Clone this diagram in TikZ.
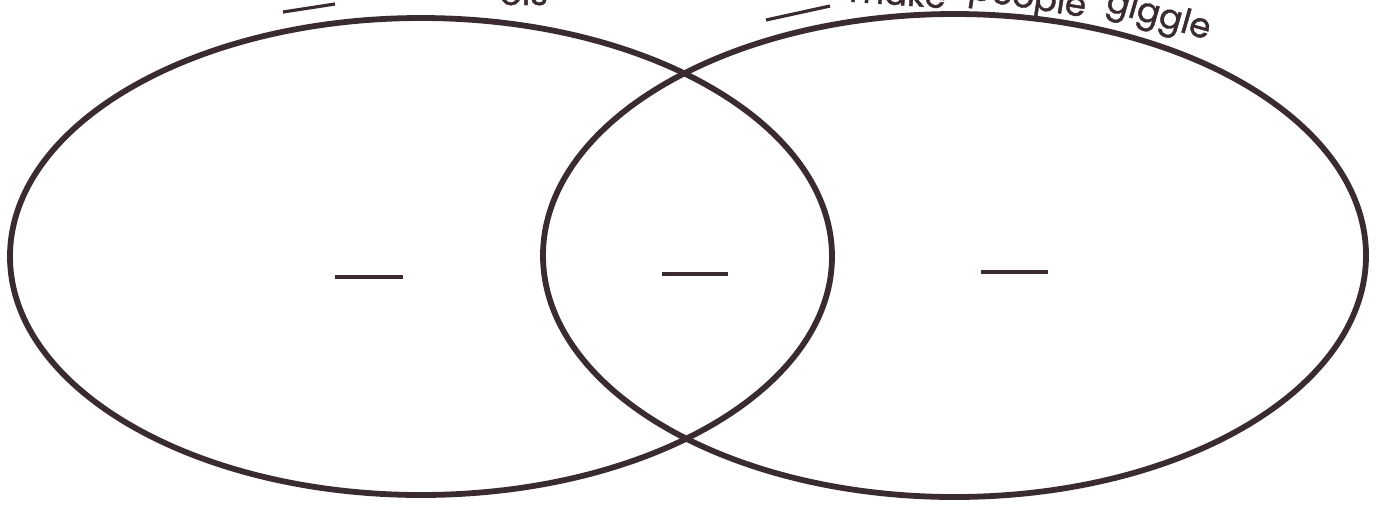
\documentclass[tikz,border=0pt]{standalone}
\usepackage{fontspec}
\setmainfont{Poppins}
\newfontfamily\lblfont[BoldFont={Poppins},BoldFeatures={FakeBold=1.2}]{Poppins}
\usetikzlibrary{shapes.geometric}
\definecolor{ink}{HTML}{3A2B32}
\tikzset{
  ring/.style={ellipse, draw=ink, line width=2.9pt, inner sep=0pt, outer sep=0pt},
  blank/.style={draw=ink, line width=1.6pt},
  lbl/.style={text=ink, font=\lblfont\bfseries\fontsize{17}{17}\selectfont, inner sep=0pt, anchor=base}
}
\begin{document}
\begin{tikzpicture}[x=0.5pt,y=-0.5pt]
\useasboundingbox (0,0) rectangle (1382,505);
\clip (0,0) rectangle (1382,505);
\fill[white] (0,0) rectangle (1382,505);
% ellipses
\node[ring, minimum width=411pt, minimum height=238.5pt] (L) at (421,256.5) {};
\node[ring, minimum width=411.5pt, minimum height=241.5pt] (R) at (954.5,255.5) {};
% blanks
\coordinate (a1) at (335,277); \coordinate (a2) at (403,277);
\coordinate (b1) at (662,274); \coordinate (b2) at (728,274);
\coordinate (c1) at (981,272); \coordinate (c2) at (1048,272);
\draw[blank] (a1) -- (a2);
\draw[blank] (b1) -- (b2);
\draw[blank] (c1) -- (c2);
% top labels (cut off by the page edge)
\coordinate (u1) at (283,12); \coordinate (u2) at (335,4);
\draw[blank] (u1) -- (u2);
\node[lbl] (t1) at (524,5) {ols};
\coordinate (v1) at (766,20); \coordinate (v2) at (830,6);
\draw[blank] (v1) -- (v2);
\node[lbl, rotate=-4] (t2) at (897,5) {make};
\node[lbl, rotate=-9] (t3) at (1026,8) {people};
\node[lbl, rotate=-16] (t4) at (1156,25) {giggle};
\end{tikzpicture}
\end{document}
